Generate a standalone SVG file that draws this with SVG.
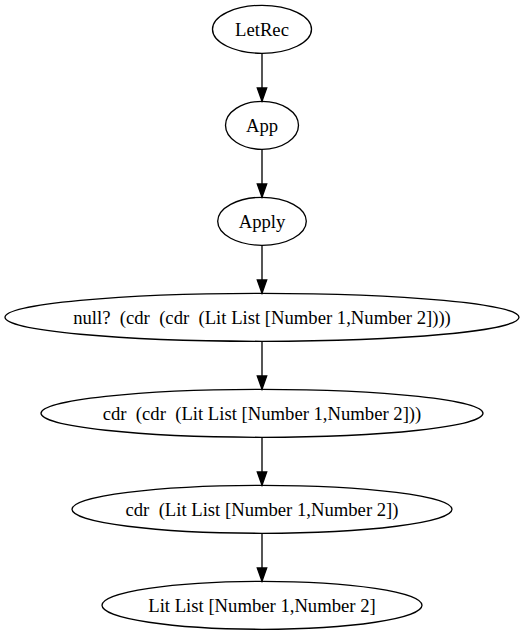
<svg xmlns="http://www.w3.org/2000/svg" width="524" height="635" viewBox="0 0 524 635">
<defs>
<style>
.n ellipse{fill:none;stroke:#000;stroke-width:1.33}
.n text{font-family:"Liberation Serif","Times New Roman",serif;font-size:18.67px;text-anchor:middle;fill:#000;white-space:pre}
#edges path{fill:none;stroke:#000;stroke-width:1.33}
#edges polygon{fill:#000;stroke:#000;stroke-width:1.33}
</style>
</defs>
<rect width="524" height="635" fill="#fff"/>
<g id="edges">
<path d="M262,53.3V88"/><polygon points="257.3,88 262,101.3 266.7,88"/>
<path d="M262,149.3V184"/><polygon points="257.3,184 262,197.3 266.7,184"/>
<path d="M262,245.3V280"/><polygon points="257.3,280 262,293.3 266.7,280"/>
<path d="M262,341.3V376"/><polygon points="257.3,376 262,389.3 266.7,376"/>
<path d="M262,437.3V472"/><polygon points="257.3,472 262,485.3 266.7,472"/>
<path d="M262,533.3V568"/><polygon points="257.3,568 262,581.3 266.7,568"/>
</g>
<g id="letrec" class="n"><ellipse cx="262" cy="29.3" rx="49.5" ry="24"/><text x="262" y="35.5">LetRec</text></g>
<g id="app" class="n"><ellipse cx="262" cy="125.3" rx="36.5" ry="24"/><text x="262" y="131.5">App</text></g>
<g id="apply" class="n"><ellipse cx="262" cy="221.3" rx="44.3" ry="24"/><text x="262" y="227.5">Apply</text></g>
<g id="nullp" class="n"><ellipse cx="262" cy="317.3" rx="257" ry="24"/><text x="262" y="323.5">null?  (cdr  (cdr  (Lit List [Number 1,Number 2])))</text></g>
<g id="cdrcdr" class="n"><ellipse cx="262" cy="413.3" rx="221" ry="24"/><text x="262" y="419.5">cdr  (cdr  (Lit List [Number 1,Number 2]))</text></g>
<g id="cdrlit" class="n"><ellipse cx="262" cy="509.3" rx="190" ry="24"/><text x="262" y="515.5">cdr  (Lit List [Number 1,Number 2])</text></g>
<g id="litlist" class="n"><ellipse cx="262" cy="605.3" rx="160" ry="24"/><text x="262" y="611.5">Lit List [Number 1,Number 2]</text></g>
</svg>
